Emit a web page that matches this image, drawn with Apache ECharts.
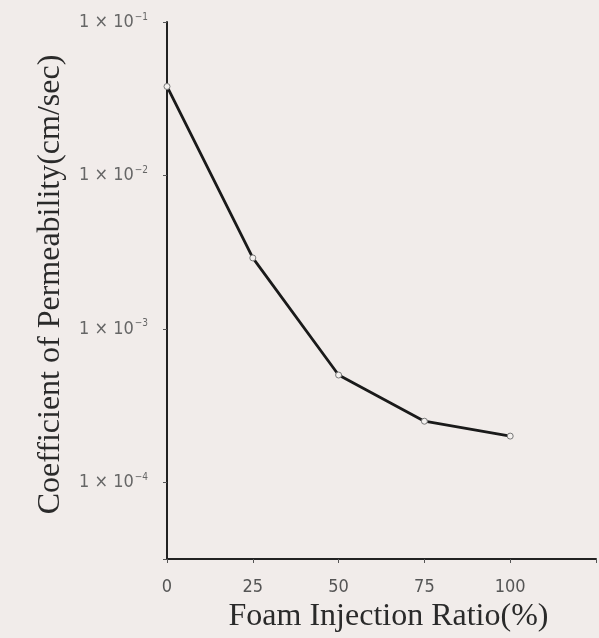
<!DOCTYPE html>
<html>
<head>
<meta charset="utf-8">
<script src="https://cdn.jsdelivr.net/npm/echarts@6/dist/echarts.min.js"></script>
<style>
  html, body { margin: 0; padding: 0; background: #f1ecea; }
  #chart { width: 599px; height: 638px; }
</style>
</head>
<body>
<div id="chart"></div>
<script>
// foam injection ratio (%) vs coefficient of permeability (cm/sec)
const ratios = [0, 25, 50, 75, 100];
const permeability = [0.038, 0.0029, 0.0005, 0.00025, 0.0002];
const decadeLabels = { '-1': '−1', '-2': '−2', '-3': '−3', '-4': '−4' };

const tickFont = "'Liberation Sans Narrow', 'DejaVu Sans Condensed', 'Roboto', sans-serif";
const nameFont = 'Liberation Serif';

const chart = echarts.init(document.getElementById('chart'));

chart.setOption({
  backgroundColor: '#f1ecea',
  animation: false,
  grid: { left: 167, right: 0, top: 22, bottom: 79 },
  xAxis: {
    type: 'value',
    min: 0,
    max: 125,
    interval: 25,
    name: 'Foam Injection Ratio(%)',
    nameLocation: 'middle',
    nameGap: 38,
    nameTextStyle: { fontFamily: nameFont, fontSize: 32, color: '#2a2a2a', padding: [0, 0, 0, 14] },
    axisLine: { lineStyle: { color: '#222', width: 2 } },
    axisTick: { show: true, length: 4, lineStyle: { color: '#555' } },
    axisLabel: {
      margin: 19,
      fontFamily: tickFont,
      fontSize: 18,
      color: '#555',
      formatter: v => (v > 100 ? '' : String(v))
    },
    splitLine: { show: false }
  },
  yAxis: {
    type: 'log',
    logBase: 10,
    min: Math.pow(10, -4.5),
    max: 0.1,
    name: 'Coefficient of Permeability(cm/sec)',
    nameLocation: 'middle',
    nameGap: 100,
    nameRotate: 90,
    nameTextStyle: { fontFamily: nameFont, fontSize: 32, color: '#2a2a2a', padding: [0, 0, 0, 12] },
    axisLine: { show: true, lineStyle: { color: '#222', width: 2 } },
    axisTick: { show: true, length: 4, lineStyle: { color: '#555' } },
    axisLabel: {
      margin: 19,
      formatter: v => {
        const e = Math.round(Math.log10(v));
        if (Math.abs(Math.log10(v) - e) > 1e-6 || !decadeLabels[e]) return '';
        return '{a|1 × 10}{s|' + decadeLabels[e] + '}';
      },
      rich: {
        a: { fontFamily: tickFont, fontSize: 18, color: '#666' },
        s: { fontFamily: tickFont, fontSize: 10, color: '#666', padding: [0, 0, 10, 1] }
      }
    },
    splitLine: { show: false }
  },
  series: [{
    type: 'line',
    data: ratios.map((r, i) => [r, permeability[i]]),
    symbol: 'circle',
    symbolSize: 6,
    itemStyle: { color: '#f4f1ef', borderColor: '#777', borderWidth: 1 },
    lineStyle: { color: '#1a1a1a', width: 2.8 }
  }]
});
</script>
</body>
</html>
